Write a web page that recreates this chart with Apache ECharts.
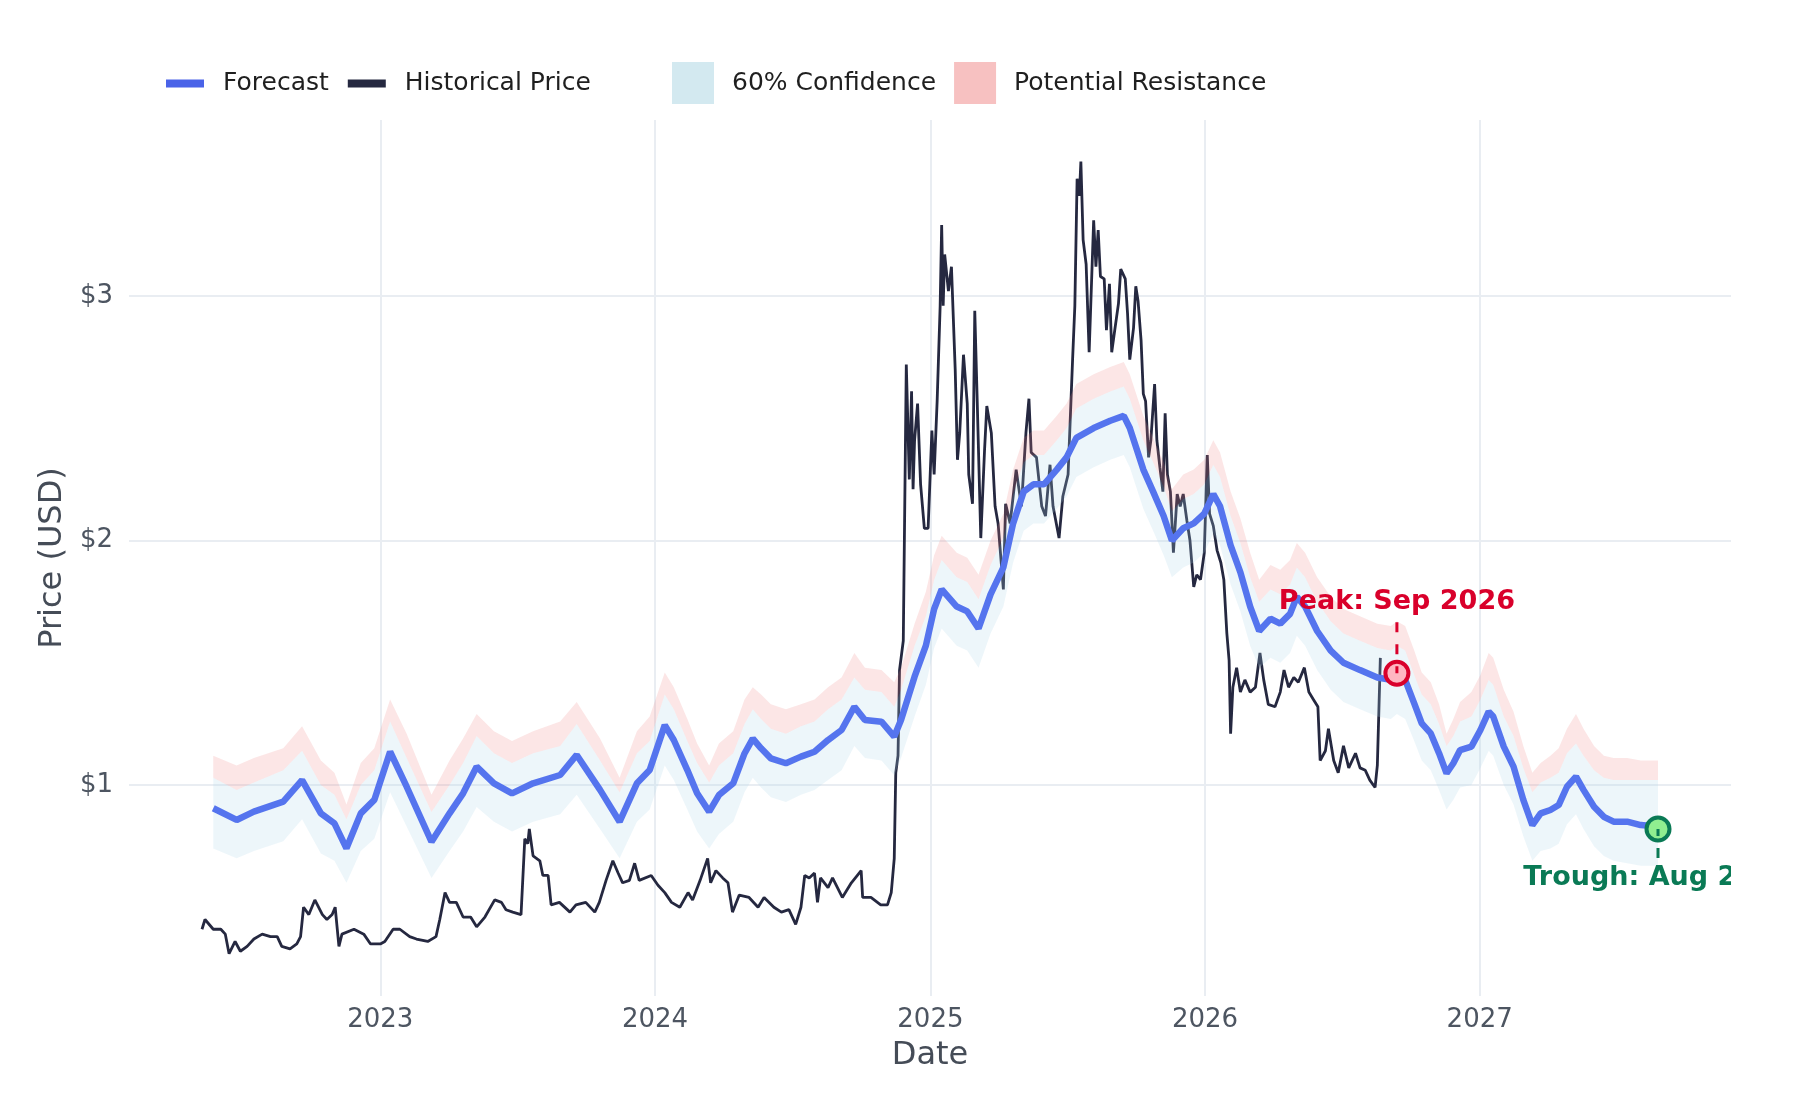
<!DOCTYPE html>
<html>
<head>
<meta charset="utf-8">
<script src="https://cdn.jsdelivr.net/npm/echarts@6/dist/echarts.min.js"></script>
<style>
html, body { margin: 0; padding: 0; background: #fff; }
#chart { width: 1800px; height: 1100px; }
</style>
</head>
<body>
<div id="chart"></div>
<script>
// 历史价格
var histDates = [
    '2022-05-09','2022-05-13','2022-05-24','2022-06-03','2022-06-09','2022-06-14','2022-06-22','2022-06-29',
    '2022-07-08','2022-07-17','2022-07-28','2022-08-08','2022-08-17','2022-08-23','2022-09-03','2022-09-12',
    '2022-09-17','2022-09-21','2022-09-28','2022-10-06','2022-10-16','2022-10-22','2022-10-29','2022-11-02',
    '2022-11-07','2022-11-11','2022-11-27','2022-12-10','2022-12-19','2023-01-01','2023-01-07','2023-01-18',
    '2023-01-27','2023-02-09','2023-02-18','2023-03-05','2023-03-16','2023-03-21','2023-03-28','2023-04-03',
    '2023-04-12','2023-04-21','2023-05-01','2023-05-09','2023-05-20','2023-06-02','2023-06-11','2023-06-17',
    '2023-06-26','2023-07-07','2023-07-12','2023-07-16','2023-07-18','2023-07-23','2023-08-01','2023-08-05',
    '2023-08-12','2023-08-16','2023-08-27','2023-09-10','2023-09-18','2023-10-01','2023-10-13','2023-10-19',
    '2023-10-28','2023-11-06','2023-11-13','2023-11-19','2023-11-28','2023-12-05','2023-12-11','2023-12-27',
    '2024-01-05','2024-01-14','2024-01-23','2024-02-03','2024-02-14','2024-02-20','2024-03-01','2024-03-11',
    '2024-03-15','2024-03-22','2024-03-31','2024-04-07','2024-04-13','2024-04-22','2024-05-05','2024-05-17',
    '2024-05-25','2024-06-07','2024-06-17','2024-06-27','2024-07-06','2024-07-13','2024-07-18','2024-07-24',
    '2024-07-31','2024-08-04','2024-08-08','2024-08-18','2024-08-24','2024-09-06','2024-09-18','2024-10-01',
    '2024-10-03','2024-10-14','2024-10-27','2024-11-05','2024-11-10','2024-11-14','2024-11-16','2024-11-19',
    '2024-11-21','2024-11-26','2024-11-30','2024-12-04','2024-12-07','2024-12-09','2024-12-11','2024-12-15',
    '2024-12-19','2024-12-24','2024-12-29','2025-01-03','2025-01-06','2025-01-10','2025-01-14','2025-01-16',
    '2025-01-18','2025-01-20','2025-01-25','2025-01-29','2025-02-03','2025-02-06','2025-02-09','2025-02-14',
    '2025-02-19','2025-02-21','2025-02-26','2025-03-01','2025-03-04','2025-03-09','2025-03-14','2025-03-17',
    '2025-03-23','2025-03-28','2025-04-01','2025-04-08','2025-04-11','2025-04-17','2025-04-25','2025-05-02',
    '2025-05-08','2025-05-12','2025-05-15','2025-05-22','2025-05-29','2025-06-03','2025-06-09','2025-06-13',
    '2025-06-21','2025-06-26','2025-07-03','2025-07-09','2025-07-12','2025-07-15','2025-07-18','2025-07-20',
    '2025-07-23','2025-07-27','2025-07-31','2025-08-06','2025-08-09','2025-08-12','2025-08-15','2025-08-20',
    '2025-08-23','2025-08-27','2025-08-30','2025-09-03','2025-09-08','2025-09-11','2025-09-17','2025-09-20',
    '2025-09-23','2025-09-28','2025-10-01','2025-10-04','2025-10-08','2025-10-11','2025-10-14','2025-10-18',
    '2025-10-21','2025-10-26','2025-10-29','2025-11-02','2025-11-06','2025-11-09','2025-11-12','2025-11-16',
    '2025-11-20','2025-11-25','2025-11-29','2025-12-03','2025-12-08','2025-12-12','2025-12-17','2025-12-21',
    '2025-12-26','2025-12-31','2026-01-04','2026-01-07','2026-01-12','2026-01-17','2026-01-22','2026-01-26',
    '2026-01-30','2026-02-02','2026-02-04','2026-02-07','2026-02-12','2026-02-17','2026-02-23','2026-03-02',
    '2026-03-09','2026-03-15','2026-03-20','2026-03-26','2026-04-04','2026-04-11','2026-04-16','2026-04-22',
    '2026-04-29','2026-05-05','2026-05-13','2026-05-19','2026-05-25','2026-05-31','2026-06-03','2026-06-10',
    '2026-06-14','2026-06-21','2026-06-27','2026-07-04','2026-07-11','2026-07-20','2026-07-26','2026-08-02',
    '2026-08-08','2026-08-15','2026-08-18','2026-08-22'
];
var histPrice = [
    0.41, 0.45, 0.41, 0.41, 0.39, 0.31, 0.36, 0.32,
    0.34, 0.37, 0.39, 0.38, 0.38, 0.34, 0.33, 0.35,
    0.38, 0.50, 0.47, 0.53, 0.47, 0.45, 0.47, 0.50,
    0.34, 0.39, 0.41, 0.39, 0.35, 0.35, 0.36, 0.41,
    0.41, 0.38, 0.37, 0.36, 0.38, 0.45, 0.56, 0.52,
    0.52, 0.46, 0.46, 0.42, 0.46, 0.53, 0.52, 0.49,
    0.48, 0.47, 0.78, 0.76, 0.82, 0.71, 0.69, 0.63,
    0.63, 0.51, 0.52, 0.48, 0.51, 0.52, 0.48, 0.52,
    0.61, 0.69, 0.64, 0.60, 0.61, 0.68, 0.61, 0.63,
    0.59, 0.56, 0.52, 0.50, 0.56, 0.53, 0.61, 0.70,
    0.60, 0.65, 0.62, 0.60, 0.48, 0.55, 0.54, 0.50,
    0.54, 0.50, 0.48, 0.49, 0.43, 0.50, 0.63, 0.62,
    0.64, 0.52, 0.62, 0.58, 0.62, 0.54, 0.60, 0.65,
    0.54, 0.54, 0.51, 0.51, 0.56, 0.70, 1.05, 1.12,
    1.47, 1.59, 2.72, 2.25, 2.61, 2.21, 2.41, 2.56,
    2.23, 2.05, 2.05, 2.45, 2.27, 2.57, 2.96, 3.29,
    2.96, 3.17, 3.02, 3.12, 2.70, 2.33, 2.44, 2.76,
    2.56, 2.27, 2.15, 2.94, 2.60, 2.01, 2.37, 2.55,
    2.44, 2.14, 2.07, 1.80, 2.15, 2.07, 2.29, 2.14,
    2.44, 2.58, 2.36, 2.34, 2.14, 2.10, 2.31, 2.14,
    2.01, 2.18, 2.27, 2.74, 2.96, 3.48, 3.41, 3.55,
    3.23, 3.13, 2.77, 3.31, 3.12, 3.27, 3.08, 3.07,
    2.86, 3.05, 2.77, 2.86, 2.97, 3.11, 3.07, 2.93,
    2.74, 2.87, 3.04, 2.98, 2.82, 2.60, 2.57, 2.34,
    2.41, 2.64, 2.41, 2.30, 2.20, 2.52, 2.27, 2.20,
    1.95, 2.19, 2.14, 2.19, 2.08, 2.00, 1.81, 1.86,
    1.84, 1.95, 2.35, 2.11, 2.06, 1.96, 1.91, 1.84,
    1.62, 1.51, 1.21, 1.40, 1.48, 1.38, 1.43, 1.38,
    1.40, 1.54, 1.43, 1.33, 1.32, 1.38, 1.47, 1.40,
    1.44, 1.42, 1.48, 1.38, 1.35, 1.32, 1.10, 1.14,
    1.23, 1.10, 1.05, 1.16, 1.07, 1.13, 1.07, 1.06,
    1.02, 0.99, 1.08, 1.52
];

// 预测值与区间
var fcDates = [
    '2022-05-24','2022-06-24','2022-07-17','2022-08-25','2022-09-19','2022-10-14','2022-11-01','2022-11-17',
    '2022-12-06','2022-12-24','2023-01-14','2023-02-05','2023-03-10','2023-04-03','2023-04-21','2023-05-09',
    '2023-06-01','2023-06-25','2023-07-23','2023-08-28','2023-09-19','2023-10-20','2023-11-15','2023-12-08',
    '2023-12-25','2024-01-14','2024-01-26','2024-02-13','2024-02-26','2024-03-13','2024-03-26','2024-04-14',
    '2024-04-29','2024-05-10','2024-05-21','2024-06-03','2024-06-23','2024-07-13','2024-07-31','2024-08-18',
    '2024-09-05','2024-09-22','2024-10-06','2024-10-28','2024-11-14','2024-11-23','2024-12-11','2024-12-26',
    '2025-01-06','2025-01-16','2025-02-05','2025-02-19','2025-03-06','2025-03-22','2025-04-08','2025-04-21',
    '2025-05-05','2025-05-18','2025-06-01','2025-06-18','2025-07-01','2025-07-14','2025-08-06','2025-08-28',
    '2025-09-15','2025-09-23','2025-10-11','2025-10-24','2025-11-07','2025-11-18','2025-12-03','2025-12-17',
    '2025-12-31','2026-01-12','2026-01-21','2026-02-04','2026-02-17','2026-03-02','2026-03-14','2026-03-29',
    '2026-04-11','2026-04-24','2026-05-03','2026-05-14','2026-05-30','2026-06-17','2026-07-04','2026-07-26',
    '2026-08-18','2026-09-05','2026-09-13','2026-09-24','2026-10-06','2026-10-16','2026-10-28','2026-11-08',
    '2026-11-18','2026-11-27','2026-12-06','2026-12-21','2027-01-02','2027-01-13','2027-01-19','2027-02-02',
    '2027-02-15','2027-02-28','2027-03-12','2027-03-23','2027-04-05','2027-04-16','2027-04-27','2027-05-09',
    '2027-05-19','2027-06-02','2027-06-15','2027-06-28','2027-07-16','2027-08-03','2027-08-26'
];
var fcValue = [
    0.905, 0.857, 0.891, 0.932, 1.020, 0.884, 0.843, 0.741,
    0.884, 0.939, 1.136, 0.993, 0.768, 0.884, 0.966, 1.075,
    1.007, 0.966, 1.007, 1.041, 1.123, 0.980, 0.850, 1.007,
    1.061, 1.245, 1.184, 1.061, 0.966, 0.891, 0.959, 1.007,
    1.129, 1.190, 1.150, 1.109, 1.089, 1.116, 1.136, 1.184,
    1.225, 1.320, 1.266, 1.259, 1.198, 1.266, 1.443, 1.570,
    1.720, 1.800, 1.730, 1.710, 1.640, 1.780, 1.890, 2.070,
    2.200, 2.230, 2.230, 2.290, 2.340, 2.420, 2.460, 2.490,
    2.510, 2.460, 2.290, 2.200, 2.100, 2.000, 2.050, 2.070,
    2.110, 2.190, 2.140, 1.980, 1.870, 1.730, 1.630, 1.680,
    1.660, 1.700, 1.770, 1.730, 1.630, 1.550, 1.500, 1.470,
    1.440, 1.430, 1.450, 1.430, 1.334, 1.252, 1.211, 1.130,
    1.048, 1.089, 1.143, 1.157, 1.225, 1.300, 1.280, 1.157,
    1.075, 0.939, 0.836, 0.884, 0.898, 0.918, 0.993, 1.034,
    0.980, 0.911, 0.870, 0.850, 0.850, 0.836, 0.830
];
var confLow = [
    0.74, 0.70, 0.73, 0.77, 0.86, 0.72, 0.69, 0.60,
    0.73, 0.78, 0.97, 0.83, 0.62, 0.73, 0.81, 0.91,
    0.85, 0.81, 0.85, 0.88, 0.96, 0.82, 0.70, 0.85,
    0.90, 1.08, 1.02, 0.90, 0.81, 0.74, 0.80, 0.85,
    0.97, 1.03, 0.99, 0.95, 0.93, 0.96, 0.98, 1.02,
    1.06, 1.16, 1.11, 1.10, 1.04, 1.11, 1.28, 1.41,
    1.56, 1.64, 1.57, 1.55, 1.48, 1.62, 1.73, 1.91,
    2.04, 2.07, 2.07, 2.13, 2.18, 2.26, 2.30, 2.33,
    2.35, 2.30, 2.13, 2.04, 1.94, 1.85, 1.89, 1.91,
    1.95, 2.03, 1.98, 1.82, 1.71, 1.57, 1.48, 1.52,
    1.50, 1.54, 1.61, 1.57, 1.47, 1.39, 1.34, 1.31,
    1.28, 1.27, 1.29, 1.27, 1.18, 1.10, 1.06, 0.98,
    0.90, 0.94, 0.99, 1.00, 1.07, 1.14, 1.12, 1.00,
    0.92, 0.79, 0.69, 0.73, 0.74, 0.76, 0.84, 0.88,
    0.82, 0.75, 0.71, 0.69, 0.68, 0.67, 0.67
];
var confHigh = [
    1.03, 0.98, 1.01, 1.06, 1.14, 1.00, 0.96, 0.86,
    1.00, 1.06, 1.26, 1.11, 0.89, 1.00, 1.09, 1.20,
    1.13, 1.09, 1.13, 1.16, 1.25, 1.10, 0.97, 1.13,
    1.18, 1.37, 1.31, 1.18, 1.09, 1.01, 1.08, 1.13,
    1.25, 1.31, 1.27, 1.23, 1.21, 1.24, 1.26, 1.31,
    1.35, 1.44, 1.39, 1.38, 1.32, 1.39, 1.57, 1.69,
    1.84, 1.92, 1.85, 1.83, 1.76, 1.90, 2.01, 2.19,
    2.32, 2.35, 2.35, 2.41, 2.46, 2.54, 2.58, 2.61,
    2.63, 2.58, 2.41, 2.32, 2.22, 2.12, 2.17, 2.19,
    2.23, 2.31, 2.26, 2.10, 1.99, 1.85, 1.75, 1.80,
    1.78, 1.82, 1.89, 1.85, 1.75, 1.67, 1.62, 1.59,
    1.56, 1.55, 1.57, 1.55, 1.45, 1.37, 1.33, 1.25,
    1.16, 1.20, 1.26, 1.28, 1.35, 1.43, 1.41, 1.28,
    1.20, 1.07, 0.97, 1.01, 1.03, 1.05, 1.13, 1.17,
    1.12, 1.06, 1.03, 1.02, 1.02, 1.02, 1.02
];
var resistHigh = [
    1.12, 1.08, 1.11, 1.15, 1.24, 1.10, 1.05, 0.92,
    1.09, 1.15, 1.35, 1.21, 0.96, 1.10, 1.19, 1.29,
    1.22, 1.18, 1.22, 1.26, 1.34, 1.19, 1.03, 1.22,
    1.28, 1.46, 1.40, 1.27, 1.17, 1.08, 1.17, 1.22,
    1.35, 1.40, 1.37, 1.33, 1.31, 1.33, 1.35, 1.40,
    1.44, 1.54, 1.48, 1.47, 1.42, 1.48, 1.66, 1.79,
    1.94, 2.02, 1.95, 1.93, 1.86, 2.00, 2.11, 2.29,
    2.42, 2.45, 2.45, 2.51, 2.56, 2.64, 2.68, 2.71,
    2.73, 2.68, 2.51, 2.42, 2.32, 2.21, 2.27, 2.29,
    2.33, 2.41, 2.36, 2.20, 2.09, 1.95, 1.84, 1.90,
    1.88, 1.92, 1.99, 1.95, 1.85, 1.77, 1.72, 1.69,
    1.66, 1.65, 1.67, 1.65, 1.55, 1.46, 1.42, 1.33,
    1.21, 1.27, 1.34, 1.38, 1.45, 1.54, 1.52, 1.39,
    1.30, 1.16, 1.05, 1.09, 1.12, 1.15, 1.23, 1.29,
    1.23, 1.16, 1.12, 1.11, 1.11, 1.10, 1.10
];

// 标注 (峰值 / 谷值)
var annotDates = ['2026-09-13', '2027-08-26'];
var annotValues = [1.457, 0.82];
var annotTexts = ['Peak: Sep 2026', 'Trough: Aug 2027'];

// 坐标轴刻度
var yearLabels = ['2023', '2024', '2025', '2026', '2027'];
var priceTicks = [1, 2, 3];

var FONT = '"DejaVu Sans", sans-serif';

var toTime = function(s) {
    var p = s.split('-');
    return new Date(+p[0], +p[1] - 1, +p[2]).getTime();
};
var pairs = function(d, v) {
    return d.map(function(t, i) { return [toTime(t), v[i]]; });
};
var diff = function(hi, lo) {
    return hi.map(function(v, i) { return +(v - lo[i]).toFixed(3); });
};
var yearTimes = yearLabels.map(function(y) { return new Date(+y, 0, 1).getTime(); });

// 标注样式
var annotStyle = [
    { color: '#d9002b', fill: '#ffb6c1', above: true },
    { color: '#0a7a55', fill: '#90ee90', above: false }
];

var chart = echarts.init(document.getElementById('chart'));

var option = {
    animation: false,
    backgroundColor: '#ffffff',
    textStyle: { fontFamily: FONT },
    grid: { left: 129, right: 69, top: 120, bottom: 104 },
    legend: [
        {
            left: 161,
            top: 66,
            icon: 'rect',
            itemWidth: 38,
            itemHeight: 8,
            itemGap: 19,
            selectedMode: false,
            textStyle: { fontSize: 25, color: '#1f1f1f', fontFamily: FONT, padding: [0, 0, 0, 14] },
            data: [
                { name: 'Forecast', itemStyle: { color: '#4a63e8', borderWidth: 0 } },
                { name: 'Historical Price', itemStyle: { color: '#252840', borderWidth: 0 } }
            ]
        },
        {
            left: 667,
            top: 57,
            icon: 'rect',
            itemWidth: 42,
            itemHeight: 42,
            itemGap: 18,
            selectedMode: false,
            textStyle: { fontSize: 25, color: '#1f1f1f', fontFamily: FONT, padding: [0, 0, 0, 13] },
            data: [
                { name: '60% Confidence', itemStyle: { color: '#d3e9f0', borderWidth: 0 } },
                { name: 'Potential Resistance', itemStyle: { color: '#f7c1c1', borderWidth: 0 } }
            ]
        }
    ],
    xAxis: {
        type: 'time',
        min: toTime('2022-02-01'),
        max: toTime('2027-12-01'),
        minInterval: 365 * 24 * 3600 * 1000,
        name: 'Date',
        nameLocation: 'middle',
        nameGap: 44,
        nameTextStyle: { fontSize: 32, color: '#454c57', fontFamily: FONT },
        axisLine: { show: false },
        axisTick: { show: false },
        splitLine: { show: false },
        axisLabel: {
            fontSize: 26,
            color: '#4d5561',
            margin: 11,
            showMinLabel: false,
            showMaxLabel: false,
            formatter: function(v) {
                var d = new Date(v);
                return (d.getMonth() === 0 && d.getDate() === 1) ? String(d.getFullYear()) : '';
            }
        }
    },
    yAxis: {
        type: 'value',
        min: 0.137,
        max: 3.72,
        name: 'Price (USD)',
        nameLocation: 'middle',
        nameGap: 51,
        nameTextStyle: { fontSize: 32, color: '#454c57', fontFamily: FONT },
        axisLine: { show: false },
        axisTick: { show: false },
        splitLine: { show: false },
        axisLabel: {
            customValues: priceTicks,
            fontSize: 26,
            color: '#4d5561',
            margin: 16,
            formatter: function(v) { return '$' + v; }
        }
    },
    series: [
        // 网格线
        {
            name: 'grid-lines',
            type: 'line',
            data: [],
            silent: true,
            z: 1,
            markLine: {
                silent: true,
                symbol: 'none',
                z: 1,
                label: { show: false },
                lineStyle: { color: '#e9edf2', width: 2, type: 'solid' },
                data: priceTicks.map(function(v) { return { yAxis: v }; })
                    .concat(yearTimes.map(function(t) { return { xAxis: t }; }))
            }
        },
        {
            name: 'Historical Price',
            type: 'line',
            data: pairs(histDates, histPrice),
            showSymbol: false,
            symbol: 'none',
            color: '#252840',
            lineStyle: { width: 2.8, color: '#252840' },
            z: 2
        },
        {
            name: 'conf-base',
            type: 'line',
            stack: 'conf',
            data: pairs(fcDates, confLow),
            symbol: 'none',
            silent: true,
            lineStyle: { opacity: 0 },
            z: 3
        },
        {
            name: '60% Confidence',
            type: 'line',
            stack: 'conf',
            data: pairs(fcDates, diff(confHigh, confLow)),
            symbol: 'none',
            silent: true,
            color: '#d3e9f0',
            lineStyle: { opacity: 0 },
            areaStyle: { color: 'rgba(173,216,230,0.22)', opacity: 1 },
            z: 3
        },
        {
            name: 'res-base',
            type: 'line',
            stack: 'res',
            data: pairs(fcDates, confHigh),
            symbol: 'none',
            silent: true,
            lineStyle: { opacity: 0 },
            z: 3
        },
        {
            name: 'Potential Resistance',
            type: 'line',
            stack: 'res',
            data: pairs(fcDates, diff(resistHigh, confHigh)),
            symbol: 'none',
            silent: true,
            color: '#f7c1c1',
            lineStyle: { opacity: 0 },
            areaStyle: { color: 'rgba(240,128,128,0.2)', opacity: 1 },
            z: 3
        },
        {
            name: 'Forecast',
            type: 'line',
            data: pairs(fcDates, fcValue),
            symbol: 'none',
            color: '#4a63e8',
            lineStyle: { width: 6.5, color: '#5574ee' },
            z: 4
        },
        // 峰值/谷值标注
        {
            name: 'annotations',
            type: 'custom',
            clip: true,
            silent: true,
            z: 6,
            data: annotDates.map(function(d, i) { return [toTime(d), annotValues[i]]; }),
            encode: { x: 0, y: 1 },
            renderItem: function(params, api) {
                var p = api.coord([api.value(0), api.value(1)]);
                var s = annotStyle[params.dataIndex];
                var text = annotTexts[params.dataIndex];
                var lineEnd = s.above ? p[1] - 51 : p[1] + 29;
                var textY = s.above ? p[1] - 71 : p[1] + 49;
                return {
                    type: 'group',
                    children: [
                        {
                            type: 'circle',
                            shape: { cx: p[0], cy: p[1], r: 11.5 },
                            style: { fill: s.fill, stroke: s.color, lineWidth: 4 }
                        },
                        {
                            type: 'line',
                            shape: { x1: p[0], y1: lineEnd, x2: p[0], y2: p[1] },
                            style: { stroke: s.color, lineWidth: 3, lineDash: [10, 12] }
                        },
                        {
                            type: 'text',
                            x: p[0],
                            y: textY,
                            style: {
                                text: text,
                                fill: s.color,
                                fontSize: 27,
                                fontWeight: 'bold',
                                fontFamily: FONT,
                                align: 'center',
                                verticalAlign: 'middle'
                            }
                        }
                    ]
                };
            }
        }
    ]
};

chart.setOption(option);
</script>
</body>
</html>
